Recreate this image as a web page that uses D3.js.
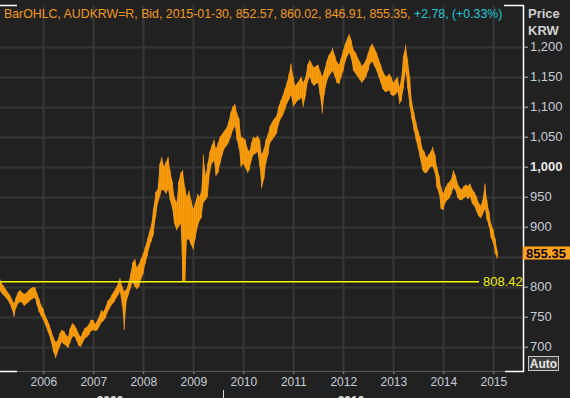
<!DOCTYPE html>
<html>
<head>
<meta charset="utf-8">
<script src="https://cdn.jsdelivr.net/npm/d3@7"></script>
<style>
  body{margin:0;background:#212121;}
  svg text{font-family:"Liberation Sans",Arial,sans-serif;}
</style>
</head>
<body>
<div id="content"></div>
<script>
(function(){

  //////////////////////////////////////////////////////////////
  //////////////////////// data ////////////////////////////////
  //////////////////////////////////////////////////////////////

  // semi-monthly samples of AUDKRW bid
  var dates = [
    "2005-02-15","2005-03-01","2005-03-15","2005-04-01","2005-04-15","2005-05-01","2005-05-15","2005-06-01","2005-06-15","2005-07-01","2005-07-15","2005-08-01","2005-08-15","2005-09-01","2005-09-15","2005-10-01","2005-10-15","2005-11-01","2005-11-15","2005-12-01","2005-12-15",
    "2006-01-01","2006-01-15","2006-02-01","2006-02-15","2006-03-01","2006-03-15","2006-04-01","2006-04-15","2006-05-01","2006-05-15","2006-06-01","2006-06-15","2006-07-01","2006-07-15","2006-08-01","2006-08-15","2006-09-01","2006-09-15","2006-10-01","2006-10-15","2006-11-01","2006-11-15","2006-12-01","2006-12-15",
    "2007-01-01","2007-01-15","2007-02-01","2007-02-15","2007-03-01","2007-03-15","2007-04-01","2007-04-15","2007-05-01","2007-05-15","2007-06-01","2007-06-15","2007-07-01","2007-07-15","2007-08-01","2007-08-15","2007-09-01","2007-09-15","2007-10-01","2007-10-15","2007-11-01","2007-11-15","2007-12-01","2007-12-15",
    "2008-01-01","2008-01-15","2008-02-01","2008-02-15","2008-03-01","2008-03-15","2008-04-01","2008-04-15","2008-05-01","2008-05-15","2008-06-01","2008-06-15","2008-07-01","2008-07-15","2008-08-01","2008-08-15","2008-09-01","2008-09-15","2008-10-01","2008-10-15","2008-11-01","2008-11-15","2008-12-01","2008-12-15",
    "2009-01-01","2009-01-15","2009-02-01","2009-02-15","2009-03-01","2009-03-15","2009-04-01","2009-04-15","2009-05-01","2009-05-15","2009-06-01","2009-06-15","2009-07-01","2009-07-15","2009-08-01","2009-08-15","2009-09-01","2009-09-15","2009-10-01","2009-10-15","2009-11-01","2009-11-15","2009-12-01","2009-12-15",
    "2010-01-01","2010-01-15","2010-02-01","2010-02-15","2010-03-01","2010-03-15","2010-04-01","2010-04-15","2010-05-01","2010-05-15","2010-06-01","2010-06-15","2010-07-01","2010-07-15","2010-08-01","2010-08-15","2010-09-01","2010-09-15","2010-10-01","2010-10-15","2010-11-01","2010-11-15","2010-12-01","2010-12-15",
    "2011-01-01","2011-01-15","2011-02-01","2011-02-15","2011-03-01","2011-03-15","2011-04-01","2011-04-15","2011-05-01","2011-05-15","2011-06-01","2011-06-15","2011-07-01","2011-07-15","2011-08-01","2011-08-15","2011-09-01","2011-09-15","2011-10-01","2011-10-15","2011-11-01","2011-11-15","2011-12-01","2011-12-15",
    "2012-01-01","2012-01-15","2012-02-01","2012-02-15","2012-03-01","2012-03-15","2012-04-01","2012-04-15","2012-05-01","2012-05-15","2012-06-01","2012-06-15","2012-07-01","2012-07-15","2012-08-01","2012-08-15","2012-09-01","2012-09-15","2012-10-01","2012-10-15","2012-11-01","2012-11-15","2012-12-01","2012-12-15",
    "2013-01-01","2013-01-15","2013-02-01","2013-02-15","2013-03-01","2013-03-15","2013-04-01","2013-04-15","2013-05-01","2013-05-15","2013-06-01","2013-06-15","2013-07-01","2013-07-15","2013-08-01","2013-08-15","2013-09-01","2013-09-15","2013-10-01","2013-10-15","2013-11-01","2013-11-15","2013-12-01","2013-12-15",
    "2014-01-01","2014-01-15","2014-02-01","2014-02-15","2014-03-01","2014-03-15","2014-04-01","2014-04-15","2014-05-01","2014-05-15","2014-06-01","2014-06-15","2014-07-01","2014-07-15","2014-08-01","2014-08-15","2014-09-01","2014-09-15","2014-10-01","2014-10-15","2014-11-01","2014-11-15","2014-12-01","2014-12-15",
    "2015-01-01","2015-01-15","2015-01-30"
  ];

  var highs = [
    816,806,802,796,791,786,780,772,782,791,794,790,788,790,794,797,799,799,790,780,770,
    763,752,744,736,726,716,708,710,722,728,726,720,716,730,739,736,730,722,716,724,731,733,738,745,
    744,738,745,752,761,758,766,776,780,786,792,798,805,814,800,792,796,806,822,840,846,832,838,846,
    856,866,880,892,905,930,958,962,1005,1016,1000,1008,1016,994,975,950,940,975,990,994,965,950,960,945,
    930,940,955,950,960,1020,985,1005,1025,1035,1045,1030,1040,1050,1055,1060,1065,1075,1090,1100,1104,1090,1080,1050,
    1048,1045,1030,1025,1040,1050,1048,1052,1045,1020,1030,1045,1055,1068,1075,1080,1085,1100,1110,1118,1130,1140,1155,1172,
    1150,1135,1140,1145,1150,1140,1150,1170,1178,1172,1165,1168,1170,1160,1150,1160,1175,1185,1190,1198,1185,1175,1170,1180,
    1195,1205,1215,1221,1210,1195,1190,1182,1175,1168,1172,1178,1190,1200,1205,1198,1190,1180,1170,1160,1152,1150,1155,1150,
    1140,1145,1150,1132,1150,1185,1203,1180,1150,1110,1090,1075,1060,1050,1030,1025,1015,1020,1025,1033,1020,1000,985,966,
    955,965,972,975,980,994,985,972,965,962,968,970,968,972,962,958,950,940,935,945,972,945,925,905,
    895,880,860
  ];

  var lows = [
    795,790,786,782,778,772,764,750,764,772,775,773,768,772,774,778,780,782,770,758,752,
    744,737,726,718,706,692,681,690,700,708,704,702,698,706,716,718,710,702,700,706,714,716,720,726,
    728,726,728,734,740,743,748,757,764,770,774,780,786,792,768,728,776,786,798,808,800,796,800,812,
    822,838,852,866,876,886,916,938,950,962,960,955,962,944,930,905,894,900,905,808,810,880,878,870,
    862,880,900,910,915,940,945,950,990,1005,1010,985,990,1005,1020,1030,1035,1040,1050,1060,1068,1045,1030,1000,
    1005,998,990,995,1010,1020,1022,1025,1000,964,980,1005,1020,1040,1045,1050,1055,1070,1080,1085,1095,1105,1112,1120,
    1100,1105,1110,1112,1115,1100,1118,1140,1150,1140,1135,1138,1140,1120,1089,1120,1140,1150,1155,1160,1150,1140,1138,1148,
    1160,1175,1185,1190,1178,1160,1155,1150,1145,1140,1145,1150,1160,1172,1175,1168,1160,1150,1140,1130,1125,1125,1128,1120,
    1118,1120,1125,1105,1110,1130,1160,1130,1100,1080,1060,1045,1030,1015,995,990,990,995,1000,1000,990,965,955,930,
    928,940,945,948,955,965,960,948,945,944,948,950,946,950,938,935,925,918,914,920,930,912,900,882,
    872,855,847
  ];

  var priceTicks = [700,750,800,850,900,950,1000,1050,1100,1150,1200];
  var yearTicks = ["2006","2007","2008","2009","2010","2011","2012","2013","2014","2015"];
  var decadeLabels = ["2000","2010"];
  var refLevel = 808.42;
  var lastClose = 855.35;
  var titleMain = "BarOHLC, AUDKRW=R, Bid, 2015-01-30, 852.57, 860.02, 846.91, 855.35, ";
  var titleChange = "+2.78, (+0.33%)";

  //////////////////////////////////////////////////////////////
  //////////////////////// chart ///////////////////////////////
  //////////////////////////////////////////////////////////////

  var width = 570, height = 398;
  var plotRight = 523, plotTop = 5, plotBottom = 371;

  var orange = "#ff9f0a", cyan = "#22c8d4", grid = "#363636", axisText = "#c6cdd6";

  var svg = d3.select("#content").append("svg")
      .attr("width", width)
      .attr("height", height)
      .style("display","block")
      .style("background","#212121");

  var parseDate = d3.timeParse("%Y-%m-%d");
  var data = dates.map(function(d, i){
    return {date: parseDate(d), hi: highs[i], lo: lows[i]};
  });

  var x = d3.scaleTime()
      .domain([parseDate("2006-01-01"), parseDate("2015-01-01")])
      .range([43.3, 493.3]);

  var y = d3.scaleLinear()
      .domain([700, 1200])
      .range([346.7, 46.7]);

  // grid
  svg.append("g").selectAll("line.h")
      .data(priceTicks)
    .enter().append("line")
      .attr("x1", 0).attr("x2", plotRight)
      .attr("y1", function(d){ return Math.round(y(d)) + 0.5; })
      .attr("y2", function(d){ return Math.round(y(d)) + 0.5; })
      .style("stroke", grid).style("stroke-width", 2);

  svg.append("g").selectAll("line.v")
      .data(yearTicks)
    .enter().append("line")
      .attr("x1", function(d){ return Math.round(x(parseDate(d + "-01-01"))) + 0.5; })
      .attr("x2", function(d){ return Math.round(x(parseDate(d + "-01-01"))) + 0.5; })
      .attr("y1", plotTop).attr("y2", plotBottom)
      .style("stroke", grid).style("stroke-width", 2);

  // price band (high/low of the bars)
  var band = d3.area()
      .x(function(d){ return x(d.date); })
      .y0(function(d){ return y(d.lo); })
      .y1(function(d){ return y(d.hi); });

  svg.append("path")
      .datum(data)
      .attr("d", band)
      .attr("transform", "translate(-1,0)")
      .style("fill", "#15263d");

  svg.append("path")
      .datum(data)
      .attr("d", band)
      .style("fill", orange);

  svg.append("g").selectAll("line.bar")
      .data(data)
    .enter().append("line")
      .attr("x1", function(d){ return x(d.date); })
      .attr("x2", function(d){ return x(d.date); })
      .attr("y1", function(d){ return y(d.lo); })
      .attr("y2", function(d){ return y(d.hi); })
      .style("stroke", "#e8900a")
      .style("stroke-width", 1);

  // reference line
  svg.append("line")
      .attr("x1", 0).attr("x2", 479)
      .attr("y1", y(refLevel)).attr("y2", y(refLevel))
      .style("stroke", "#ffff00").style("stroke-width", 1.5);

  svg.append("text")
      .attr("x", 483).attr("y", y(refLevel) + 4.5)
      .style("fill", "#f0f000").style("font-size", "13px")
      .text(d3.format(".2f")(refLevel));

  // frame
  svg.append("line").attr("x1", plotRight + 0.5).attr("x2", plotRight + 0.5)
      .attr("y1", plotTop).attr("y2", plotBottom + 1)
      .style("stroke", "#fff").style("stroke-width", 1.5);
  [[0,16],[504,plotRight]].forEach(function(s){
    svg.append("line").attr("x1", s[0]).attr("x2", s[1] + 1)
        .attr("y1", plotTop + 0.5).attr("y2", plotTop + 0.5)
        .style("stroke", "#fff").style("stroke-width", 1.5);
  });

  // x axis
  svg.append("line").attr("x1", 0).attr("x2", plotRight)
      .attr("y1", plotBottom + 0.5).attr("y2", plotBottom + 0.5)
      .style("stroke", "#5a5a5a");
  [[0,16],[505,plotRight]].forEach(function(s){
    svg.append("line").attr("x1", s[0]).attr("x2", s[1] + 1)
        .attr("y1", plotBottom + 0.5).attr("y2", plotBottom + 0.5)
        .style("stroke", "#fff").style("stroke-width", 1.5);
  });

  var xAxis = svg.append("g")
      .attr("transform", "translate(0," + (plotBottom + 1) + ")")
      .call(d3.axisBottom(x)
        .tickValues(yearTicks.map(function(d){ return parseDate(d + "-01-01"); }))
        .tickFormat(d3.timeFormat("%Y"))
        .tickSize(2)
        .tickPadding(3));
  xAxis.select(".domain").remove();
  xAxis.selectAll(".tick line").style("stroke", "#9aa0a8");
  xAxis.selectAll(".tick text")
      .style("fill", axisText).style("font-size", "12px")
      .style("font-family", "Liberation Sans, Arial, sans-serif");

  // decade labels, cut off by the window as in the original
  svg.append("line").attr("x1", 223.5).attr("x2", 223.5)
      .attr("y1", 390).attr("y2", 398)
      .style("stroke", "#ddd");
  svg.selectAll("text.decade")
      .data(decadeLabels)
    .enter().append("text")
      .attr("x", function(d, i){ return i === 0 ? 110 : 351; })
      .attr("y", 405)
      .attr("text-anchor", "middle")
      .style("fill", "#e0e0e0").style("font-size", "12px").style("font-weight", "bold")
      .text(function(d){ return d; });

  // y axis on the right (850 label sits under the last price box)
  var yAxis = svg.append("g")
      .attr("transform", "translate(" + (plotRight + 1) + ",0)")
      .call(d3.axisRight(y)
        .tickValues(priceTicks)
        .tickFormat(function(d){ return d === 850 ? "" : d3.format(",")(d); })
        .tickSize(4)
        .tickPadding(2));
  yAxis.select(".domain").remove();
  yAxis.selectAll(".tick line").style("stroke", "#bbb");
  yAxis.selectAll(".tick text")
      .style("font-size", "13px")
      .style("font-family", "Liberation Sans, Arial, sans-serif")
      .style("font-weight", function(d){ return d === 1000 ? "bold" : "normal"; })
      .style("fill", function(d){ return d === 1000 ? "#e8e8e8" : axisText; });

  svg.append("text").attr("x", 528).attr("y", 18)
      .style("fill", "#d0d0d0").style("font-size", "13px").style("font-weight", "bold")
      .text("Price");
  svg.append("text").attr("x", 528).attr("y", 35)
      .style("fill", "#d0d0d0").style("font-size", "13px").style("font-weight", "bold")
      .text("KRW");

  // last price box
  svg.append("rect")
      .attr("x", plotRight).attr("y", y(lastClose) - 7)
      .attr("width", width - plotRight).attr("height", 13)
      .style("fill", "#ffa01e");
  svg.append("text")
      .attr("x", 546).attr("y", y(lastClose) + 4.5)
      .attr("text-anchor", "middle")
      .style("fill", "#000").style("font-size", "13px").style("font-weight", "bold")
      .text(d3.format(".2f")(lastClose));

  // Auto button
  svg.append("rect")
      .attr("x", 528.5).attr("y", 356.5).attr("width", 30).attr("height", 14)
      .style("fill", "#3c3c3c").style("stroke", "#c8c8c8");
  svg.append("text")
      .attr("x", 543.5).attr("y", 368)
      .attr("text-anchor", "middle")
      .style("fill", "#e6e6e6").style("font-size", "12px").style("font-weight", "bold")
      .text("Auto");

  // title
  var title = svg.append("text")
      .attr("x", 4).attr("y", 18)
      .style("font-size", "13px");
  title.append("tspan").style("fill", "#f39a1a").text(titleMain);
  title.append("tspan").style("fill", cyan).text(titleChange);
  var tw = title.node().getComputedTextLength();
  title.style("font-size", (13 * 499 / tw) + "px");

})();
</script>
</body>
</html>
